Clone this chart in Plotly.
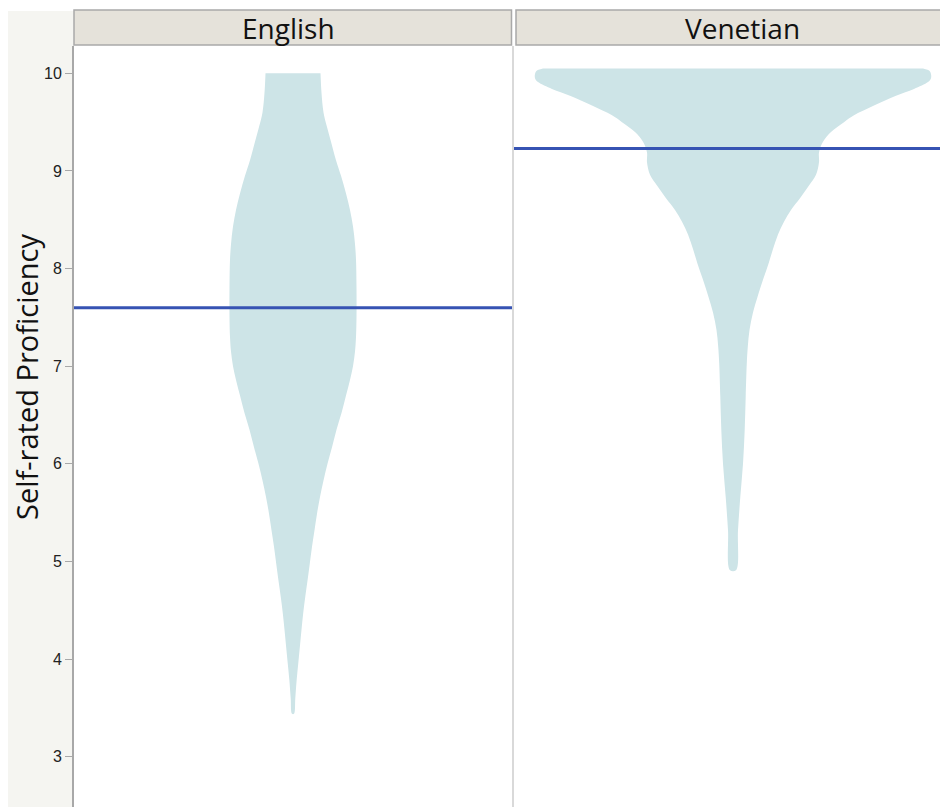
import plotly.graph_objects as go

# ---- data ----
languages = ["English", "Venetian"]
means = [7.60, 9.23]

# violin profiles: proficiency level and density half-width (relative units)
eng_level = [10.0, 9.8, 9.6, 9.45, 9.3, 9.11, 8.95, 8.77, 8.6, 8.43, 8.25, 8.09, 7.8,
             7.5, 7.3, 7.15, 7.0, 6.86, 6.7, 6.52, 6.35, 6.17, 6.0, 5.83, 5.66,
             5.49, 5.32, 5.15, 4.98, 4.81, 4.64, 4.47, 4.3, 4.13, 3.96, 3.79, 3.6, 3.44]
eng_dens = [27.5, 28.5, 30.5, 34, 38, 43, 48, 53, 57, 60, 62, 63, 63.5,
            63.5, 63, 62, 60, 57, 53, 48.5, 43.5, 39, 34.5, 30.5, 27,
            24, 21.5, 19, 16.8, 14.6, 12.3, 10.2, 8.5, 6.9, 5.3, 3.7, 2.3, 1]

ven_level = [10.05, 10.02, 9.95, 9.91, 9.84, 9.77, 9.67, 9.57, 9.50, 9.40, 9.30, 9.19, 9.09,
             8.96, 8.85, 8.72, 8.6, 8.48, 8.35, 8.2, 8.05, 7.9, 7.71, 7.55, 7.37, 7.2,
             7.03, 6.69, 6.35, 6.0, 5.66, 5.32, 4.91]
ven_dens = [190, 197, 198, 195, 181, 163, 141, 121, 111, 98, 90, 86, 86,
            83, 76, 67, 58, 51, 45, 40, 35.5, 30.5, 24.5, 20, 16.5, 14.8,
            13.8, 12.7, 11.7, 10, 7.3, 5, 3]

yticks = [3, 4, 5, 6, 7, 8, 9, 10]

# ---- layout constants ----
W, H = 940, 807
ML, MT = 74, 46
PW = W - ML           # plot width in px
PH = H - MT           # plot height in px
P1_END = 512
P2_START = 514
PANEL_PX = P1_END - ML  # 438
SCALE = 1.0 / PANEL_PX  # density unit -> category-axis unit

VIOLIN = "#cde4e7"
MEAN = "#3653b3"

fig = go.Figure()

profiles = [(eng_level, eng_dens), (ven_level, ven_dens)]
for i, (lvl, dens) in enumerate(profiles):
    xs = [-d * SCALE for d in dens] + [d * SCALE for d in reversed(dens)]
    ys = list(lvl) + list(reversed(lvl))
    fig.add_trace(go.Scatter(
        x=xs, y=ys, mode="lines", fill="toself", fillcolor=VIOLIN,
        line=dict(width=0, color=VIOLIN, shape="spline", smoothing=1.0),
        hoverinfo="skip", showlegend=False,
        xaxis="x" if i == 0 else "x2", yaxis="y" if i == 0 else "y2"))

d1 = [0, (P1_END - ML) / PW]
d2 = [(P2_START - ML) / PW, 1.0]
r2 = [-0.5, -0.5 + (W - P2_START) / PANEL_PX]

y_range = [2.485, 10.28]

fig.update_layout(
    width=W, height=H,
    margin=dict(l=ML, r=0, t=MT, b=0),
    paper_bgcolor="white", plot_bgcolor="white",
    showlegend=False,
    xaxis=dict(domain=d1, range=[-0.5, 0.5], showgrid=False, zeroline=False,
               showticklabels=False, ticks="", showline=False),
    xaxis2=dict(domain=d2, range=r2, showgrid=False, zeroline=False,
                showticklabels=False, ticks="", showline=False),
    yaxis=dict(range=y_range, tickvals=yticks, ticktext=[str(t) for t in yticks],
               ticks="outside", ticklen=7, tickwidth=1, tickcolor="#a8a8a8",
               showline=True, linecolor="#a8a8a8", linewidth=2,
               showgrid=False, zeroline=False,
               tickfont=dict(family="Liberation Sans, Arial", size=16, color="#222222")),
    yaxis2=dict(range=y_range, anchor="x2", matches="y", showticklabels=False,
                ticks="", showline=False, showgrid=False, zeroline=False),
)

shapes = []
# left gray backdrop
shapes.append(dict(type="rect", xref="paper", yref="paper",
                   x0=(8 - ML) / PW, x1=0, y0=-0.01, y1=1 + (MT - 11) / PH,
                   fillcolor="#f5f5f1", line=dict(width=0), layer="below"))
# divider between panels
shapes.append(dict(type="line", xref="paper", yref="paper",
                   x0=(513 - ML) / PW, x1=(513 - ML) / PW, y0=0, y1=1,
                   line=dict(color="#d9d9d9", width=2)))
# header strips
hdr_y0 = 1 + 1 / PH
hdr_y1 = 1 + (MT - 10) / PH
shapes.append(dict(type="rect", xref="paper", yref="paper",
                   x0=0, x1=(511.5 - ML) / PW, y0=hdr_y0, y1=hdr_y1,
                   fillcolor="#e5e2da", line=dict(color="#a9a9a9", width=1.5)))
shapes.append(dict(type="rect", xref="paper", yref="paper",
                   x0=(516 - ML) / PW, x1=1.02, y0=hdr_y0, y1=hdr_y1,
                   fillcolor="#e5e2da", line=dict(color="#a9a9a9", width=1.5)))
# mean lines
for i, m in enumerate(means):
    shapes.append(dict(type="line", xref="x domain" if i == 0 else "x2 domain",
                       yref="y" if i == 0 else "y2",
                       x0=0, x1=1, y0=m, y1=m,
                       line=dict(color=MEAN, width=3)))
fig.update_layout(shapes=shapes)

hdr_mid = 1 + (MT - 28) / PH
annotations = [
    dict(text=languages[0], xref="x domain", yref="paper", x=0.49, y=hdr_mid,
         showarrow=False, xanchor="center", yanchor="middle",
         font=dict(family="Open Sans", size=28, color="#111111")),
    dict(text=languages[1], xref="x2 domain", yref="paper", x=(742 - P2_START) / (W - P2_START),
         y=hdr_mid, showarrow=False, xanchor="center", yanchor="middle",
         font=dict(family="Open Sans", size=28, color="#111111")),
    dict(text="Self-rated Proficiency", xref="paper", yref="paper",
         x=(26 - ML) / PW, y=(H - 377) / PH, textangle=-90,
         showarrow=False, xanchor="center", yanchor="middle",
         font=dict(family="Open Sans", size=29, color="#111111")),
]
fig.update_layout(annotations=annotations)

fig.write_html("out.html")
